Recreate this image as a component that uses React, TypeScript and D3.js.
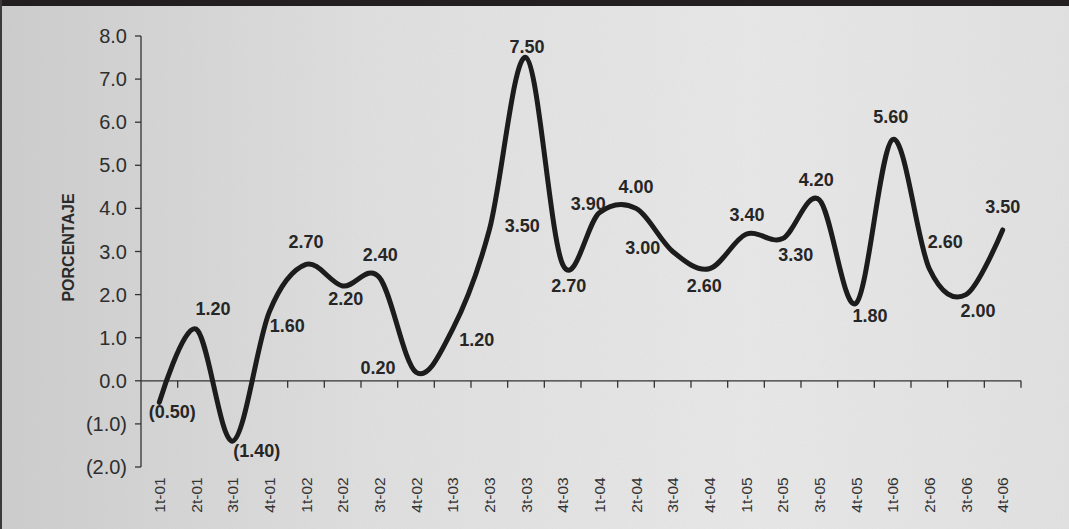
import * as d3 from 'd3'

// quarters 2001 - 2006
const quarters = [
  '1t-01', '2t-01', '3t-01', '4t-01',
  '1t-02', '2t-02', '3t-02', '4t-02',
  '1t-03', '2t-03', '3t-03', '4t-03',
  '1t-04', '2t-04', '3t-04', '4t-04',
  '1t-05', '2t-05', '3t-05', '4t-05',
  '1t-06', '2t-06', '3t-06', '4t-06',
]

const porcentaje = [
  -0.5, 1.2, -1.4, 1.6,
  2.7, 2.2, 2.4, 0.2,
  1.2, 3.5, 7.5, 2.7,
  3.9, 4.0, 3.0, 2.6,
  3.4, 3.3, 4.2, 1.8,
  5.6, 2.6, 2.0, 3.5,
]

const yTicks = [-2, -1, 0, 1, 2, 3, 4, 5, 6, 7, 8]

// where each value label sits relative to its point (layout only)
const labelOffsets: [number, number][] = [
  [13, 10], [17, -20], [24, 10], [18, 14],
  [0, -22], [3, 13], [1, -22], [-38, -4],
  [24, 11], [33, -4], [1, -11], [6, 22],
  [-11, -9], [0, -21], [-30, -4], [-5, 17],
  [1, -19], [13, 16], [-3, -20], [14, 13],
  [-2, -22], [16, -27], [12, 16], [0, -23],
]

const W = 1069
const H = 529
const FONT = '"Liberation Sans", Arial, Helvetica, sans-serif'

const fmtAxis = (v: number) => (v < 0 ? `(${Math.abs(v).toFixed(1)})` : v.toFixed(1))
const fmtLabel = (v: number) => (v < 0 ? `(${Math.abs(v).toFixed(2)})` : v.toFixed(2))

export default function App() {
  const x = d3.scaleBand<string>().domain(quarters).range([141, 1021]).padding(0)
  const y = d3.scaleLinear().domain([-2, 8]).range([467, 36])
  const bw = x.bandwidth()
  const cx = (q: string) => (x(q) || 0) + bw / 2

  const pts = quarters.map((q, i) => ({ q, v: porcentaje[i] }))

  const line = d3.line<{ q: string; v: number }>()
    .x(d => cx(d.q))
    .y(d => y(d.v))
    .curve(d3.curveCardinal.tension(0))

  const y0 = y(0)

  return (
    <>
      <style>{'html,body{margin:0;padding:0;overflow:hidden;background:#e2e2e2}'}</style>
      <svg width={W} height={H} style={{ display: 'block' }}>
        <defs>
          <linearGradient id="bg" x1="0" x2="1" y1="0" y2="0">
            <stop offset="0" stopColor="#cdcdcd" />
            <stop offset="0.35" stopColor="#e0e0e0" />
            <stop offset="0.7" stopColor="#e9e9e9" />
            <stop offset="1" stopColor="#e2e2e2" />
          </linearGradient>
          <filter id="paper" filterUnits="userSpaceOnUse" x={0} y={0} width={W} height={H}>
            <feTurbulence type="fractalNoise" baseFrequency="0.8" numOctaves="2" seed="3" />
            <feColorMatrix type="matrix" values="0 0 0 0 0.45  0 0 0 0 0.45  0 0 0 0 0.45  0 0 0 0.12 0" />
          </filter>
        </defs>
        <rect x={0} y={0} width={W} height={H} fill="url(#bg)" />
        <rect x={0} y={0} width={W} height={H} fill="#fff" filter="url(#paper)" />
        <rect x={0} y={0} width={W} height={6} fill="#231f20" />
        <rect x={0} y={0} width={2} height={H} fill="#3a3a3a" />

        {/* y axis */}
        <line x1={141} x2={141} y1={y(8)} y2={y(-2)} stroke="#333" strokeWidth={1.3} />
        {yTicks.map(t => (
          <g key={t}>
            <line x1={135} x2={141} y1={y(t)} y2={y(t)} stroke="#333" strokeWidth={1.3} />
            <text x={127} y={y(t)} textAnchor="end" dominantBaseline="central"
              fontFamily={FONT} fontSize={20} fill="#2e2e2e">{fmtAxis(t)}</text>
          </g>
        ))}
        <text transform={`translate(68,${(y(8) + y(-2)) / 2 - 4}) rotate(-90)`} textAnchor="middle"
          dominantBaseline="central" fontFamily={FONT} fontSize={16} fontWeight="bold" fill="#2a2a2a">
          PORCENTAJE
        </text>

        {/* x axis on zero */}
        <line x1={141} x2={1021} y1={y0} y2={y0} stroke="#333" strokeWidth={1.3} />
        {quarters.map((q, i) => (
          <g key={q}>
            <line x1={(x(q) || 0) + bw} x2={(x(q) || 0) + bw} y1={y0} y2={y0 + 7}
              stroke="#333" strokeWidth={1.3} />
            <text transform={`translate(${cx(q)},495) rotate(-90)`} textAnchor="middle"
              dominantBaseline="central" fontFamily={FONT} fontSize={15.5} fill="#333">{quarters[i]}</text>
          </g>
        ))}

        {/* series */}
        <path d={line(pts) || ''} fill="none" stroke="#1c1c1c" strokeWidth={5}
          strokeLinejoin="round" strokeLinecap="round" />

        {pts.map((d, i) => (
          <text key={d.q} x={cx(d.q) + labelOffsets[i][0]} y={y(d.v) + labelOffsets[i][1]}
            textAnchor="middle" dominantBaseline="central" fontFamily={FONT}
            fontSize={18} fontWeight="bold" fill="#262626">{fmtLabel(d.v)}</text>
        ))}
      </svg>
    </>
  )
}
